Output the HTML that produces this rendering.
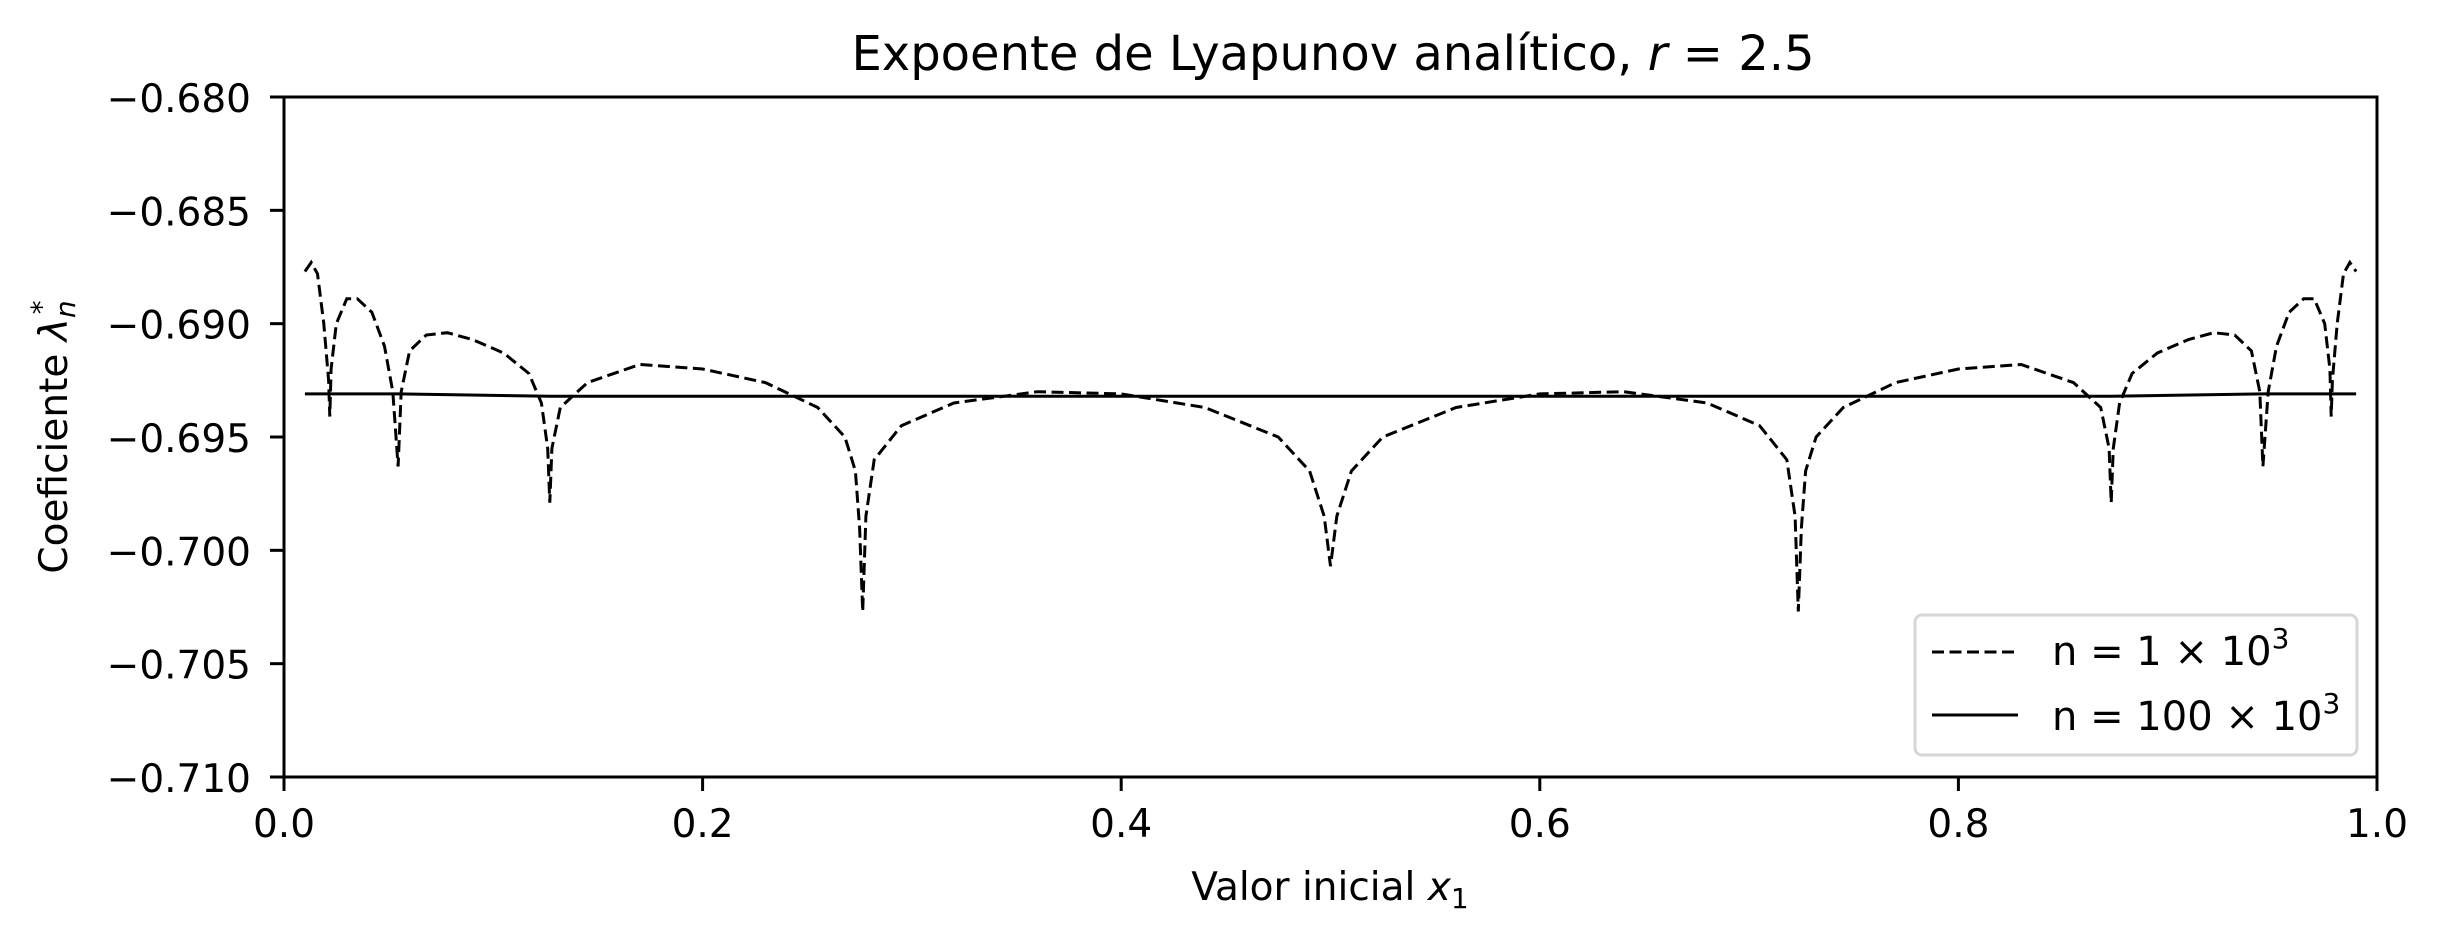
<!DOCTYPE html>
<html><head><meta charset="utf-8"><style>
body{margin:0;background:#fff}
svg text{font-family:"DejaVu Sans","Liberation Sans",sans-serif;fill:#000}
</style></head><body>
<svg id="c" width="2439" height="938" xmlns="http://www.w3.org/2000/svg" style="position:absolute;left:0;top:0"></svg>
<script>
const xTicks=[0,0.2,0.4,0.6,0.8,1.0];
const xTickLabels=["0.0","0.2","0.4","0.6","0.8","1.0"];
const yTicks=[-0.680,-0.685,-0.690,-0.695,-0.700,-0.705,-0.710];
const yTickLabels=["−0.680","−0.685","−0.690","−0.695","−0.700","−0.705","−0.710"];
const dashX=[0.010,0.013,0.016,0.019,0.0213,0.0219,0.0225,0.025,0.030,0.035,0.042,0.048,0.052,0.0545,0.056,0.060,0.068,0.078,0.090,0.105,0.117,0.123,0.126,0.127,0.128,0.132,0.145,0.170,0.200,0.230,0.255,0.268,0.273,0.275,0.2765,0.278,0.282,0.295,0.320,0.360,0.400,0.440,0.475,0.490,0.497,0.500,
0.503,0.510,0.525,0.560,0.600,0.640,0.680,0.705,0.718,0.722,0.7235,0.725,0.727,0.732,0.745,0.770,0.800,0.830,0.855,0.868,0.872,0.873,0.874,0.877,0.883,0.895,0.910,0.922,0.932,0.940,0.944,0.9455,0.948,0.952,0.958,0.965,0.970,0.975,0.9775,0.9781,0.9787,0.981,0.984,0.987,0.990];
const dashY=[-0.6877,-0.6873,-0.6878,-0.6900,-0.6925,-0.6941,-0.6920,-0.6900,-0.6889,-0.6889,-0.6895,-0.6910,-0.6930,-0.6963,-0.6930,-0.6912,-0.6905,-0.6904,-0.6907,-0.6913,-0.6922,-0.6935,-0.6955,-0.6979,-0.6955,-0.6937,-0.6926,-0.6918,-0.6920,-0.6926,-0.6937,-0.6950,-0.6965,-0.6990,-0.7027,-0.6985,-0.6960,-0.6945,-0.6935,-0.6930,-0.6931,-0.6937,-0.6950,-0.6965,-0.6985,-0.7007,
-0.6985,-0.6965,-0.6950,-0.6937,-0.6931,-0.6930,-0.6935,-0.6945,-0.6960,-0.6985,-0.7027,-0.6990,-0.6965,-0.6950,-0.6937,-0.6926,-0.6920,-0.6918,-0.6926,-0.6937,-0.6955,-0.6979,-0.6955,-0.6935,-0.6922,-0.6913,-0.6907,-0.6904,-0.6905,-0.6912,-0.6930,-0.6963,-0.6930,-0.6910,-0.6895,-0.6889,-0.6889,-0.6900,-0.6920,-0.6941,-0.6925,-0.6900,-0.6878,-0.6873,-0.6877];
const solidX=[0.010,0.030,0.0545,0.127,0.2765,0.500,0.7235,0.873,0.9455,0.978,0.990];
const solidY=[-0.6931,-0.6931,-0.6931,-0.6932,-0.6932,-0.6932,-0.6932,-0.6932,-0.6931,-0.6931,-0.6931];

const L=284,R=2377,T=97,B=777;
const sx=v=>L+(v-0)/(1-0)*(R-L);
const sy=v=>T+(-0.680-v)/(0.030)*(B-T);
const svg=document.getElementById('c');
const NS='http://www.w3.org/2000/svg';
function mk(t,a,txt){const e=document.createElementNS(NS,t);for(const k in a)e.setAttribute(k,a[k]);if(txt!=null)e.textContent=txt;svg.appendChild(e);return e;}

const clip=mk('clipPath',{id:'pc'});
const cr=document.createElementNS(NS,'rect');cr.setAttribute('x',L);cr.setAttribute('y',T);cr.setAttribute('width',R-L);cr.setAttribute('height',B-T);clip.appendChild(cr);

let d=dashX.map((x,i)=>(i?'L':'M')+sx(x).toFixed(1)+','+sy(dashY[i]).toFixed(1)).join('');
let p=mk('path',{d:d,fill:'none',stroke:'#000','stroke-width':3,'stroke-dasharray':'12,5.5','clip-path':'url(#pc)'});


d=solidX.map((x,i)=>(i?'L':'M')+sx(x).toFixed(1)+','+sy(solidY[i]).toFixed(1)).join('');
p=mk('path',{d:d,fill:'none',stroke:'#000','stroke-width':3,'clip-path':'url(#pc)'});



const fr=mk('rect',{x:L,y:T,width:R-L,height:B-T,fill:'none',stroke:'#000','stroke-width':3});



xTicks.forEach((v,i)=>{
  const l=mk('line',{x1:sx(v),x2:sx(v),y1:B,y2:B+14,stroke:'#000','stroke-width':3});
  
  
  const t=mk('text',{x:sx(v),y:837,'text-anchor':'middle','font-size':39},xTickLabels[i]);
  
  
});
yTicks.forEach((v,i)=>{
  const l=mk('line',{x1:L-14,x2:L,y1:sy(v),y2:sy(v),stroke:'#000','stroke-width':3});
  
  
  const t=mk('text',{x:251,y:sy(v)+15,'text-anchor':'end','font-size':39},yTickLabels[i]);
  
  
});
</script>
<svg style="position:absolute;left:0;top:0" width="2439" height="938">
<text x="1333" y="70" text-anchor="middle" font-size="48">Expoente de Lyapunov analítico, <tspan font-style="italic">r</tspan> = 2.5</text>
<text x="1330" y="900" text-anchor="middle" font-size="39">Valor inicial <tspan font-style="italic">x</tspan><tspan font-size="28" dy="8">1</tspan></text>
<text transform="translate(67,437) rotate(-90)" text-anchor="middle" font-size="39">Coeficiente <tspan font-style="italic">λ</tspan><tspan font-size="28" dy="8" font-style="italic">n</tspan><tspan font-size="28" dy="-24" dx="-14">*</tspan></text>
<g>
<rect x="1915" y="615" width="442" height="140" rx="7" fill="#fff" fill-opacity="0.8" stroke="#d6d6d6" stroke-width="3"/>
<line x1="1932" y1="652" x2="2018" y2="652" stroke="#000" stroke-width="3" stroke-dasharray="12,5.5"/>
<text x="2052" y="665" font-size="40">n = 1 × 10<tspan font-size="28" dy="-17">3</tspan></text>
<line x1="1932" y1="715" x2="2018" y2="715" stroke="#000" stroke-width="3"/>
<text x="2052" y="730" font-size="40">n = 100 × 10<tspan font-size="28" dy="-17">3</tspan></text>
</g>
</svg>
</body></html>
